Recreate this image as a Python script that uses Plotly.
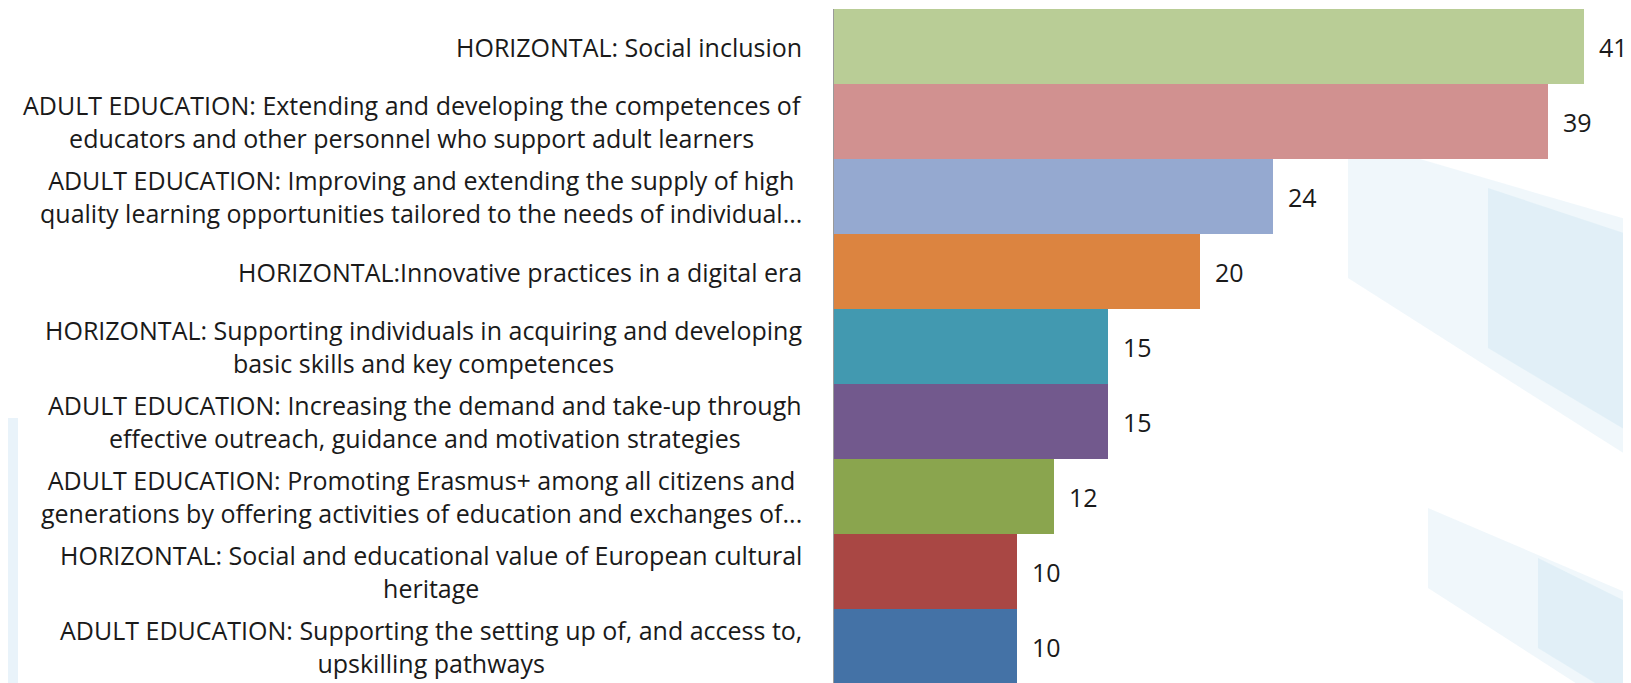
import plotly.graph_objects as go

# categories, top to bottom as in the chart
labels = [
    "HORIZONTAL: Social inclusion",
    "ADULT EDUCATION: Extending and developing the competences of<br>educators and other personnel who support adult learners",
    "ADULT EDUCATION: Improving and extending the supply of high<br>quality learning opportunities tailored to the needs of individual...",
    "HORIZONTAL:Innovative practices in a digital era",
    "HORIZONTAL: Supporting individuals in acquiring and developing<br>basic skills and key competences",
    "ADULT EDUCATION: Increasing the demand and take-up through<br>effective outreach, guidance and motivation strategies",
    "ADULT EDUCATION: Promoting Erasmus+ among all citizens and<br>generations by offering activities of education and exchanges of...",
    "HORIZONTAL: Social and educational value of European cultural<br>heritage",
    "ADULT EDUCATION: Supporting the setting up of, and access to,<br>upskilling pathways",
]
counts = [41, 39, 24, 20, 15, 15, 12, 10, 10]
bar_colors = ["#B9CD96", "#D19190", "#95A9D0", "#DC8440", "#4299B0",
              "#72598D", "#8AA54E", "#A94744", "#4472A6"]

# the page body adds an 8px offset, margins below allow for it
W, H = 1631, 683
L, R, T, B = 826, 0, 1, 7
FONT = "Open Sans, sans-serif"

fig = go.Figure(go.Bar(
    x=counts,
    y=list(range(len(labels))),
    orientation="h",
    marker=dict(color=bar_colors, line=dict(width=0)),
    hoverinfo="skip",
))

# category labels, lines centred within each label
for i, lab in enumerate(labels):
    fig.add_annotation(x=0, y=i, xref="paper", yref="y", text=lab,
                       xanchor="right", align="center", xshift=-30,
                       showarrow=False, font=dict(size=25, color="#1a1a1a"))

# value labels
for i, v in enumerate(counts):
    fig.add_annotation(x=v, y=i, xref="x", yref="y", text=str(v),
                       xanchor="left", xshift=13, showarrow=False,
                       font=dict(size=25, color="#1a1a1a"))


def px(x, y):
    # pixel position -> paper fraction (for background decoration only)
    return (x - L) / (W - L - R), 1 - (y - T) / (H - T - B)


def poly(pts, color):
    path = "M " + " L ".join("%f,%f" % px(x, y) for x, y in pts) + " Z"
    fig.add_shape(type="path", path=path, xref="paper", yref="paper",
                  fillcolor=color, line=dict(width=0), layer="below")


# faint background swooshes
poly([(1340, 130), (1631, 215), (1631, 455), (1340, 270)], "rgba(230,242,249,0.6)")
poly([(1480, 180), (1631, 230), (1631, 430), (1480, 340)], "rgba(214,233,244,0.55)")
poly([(1420, 500), (1631, 590), (1631, 683), (1580, 683), (1420, 580)], "rgba(230,242,249,0.6)")
poly([(1530, 550), (1631, 600), (1631, 683), (1600, 683), (1530, 640)], "rgba(214,233,244,0.55)")
poly([(-8, 410), (10, 410), (10, 683), (-8, 683)], "rgba(218,235,246,0.6)")

fig.update_layout(
    width=W, height=H,
    margin=dict(l=L, r=R, t=T, b=B, pad=0),
    paper_bgcolor="white",
    plot_bgcolor="rgba(0,0,0,0)",
    font=dict(family=FONT),
    bargap=0,
    showlegend=False,
    xaxis=dict(range=[0, 44.0], visible=False, fixedrange=True),
    yaxis=dict(autorange="reversed", showticklabels=False, showgrid=False,
               zeroline=False, showline=True, linecolor="#9a9a9a", linewidth=1,
               ticks="", fixedrange=True),
)

fig.write_html("out.html")
